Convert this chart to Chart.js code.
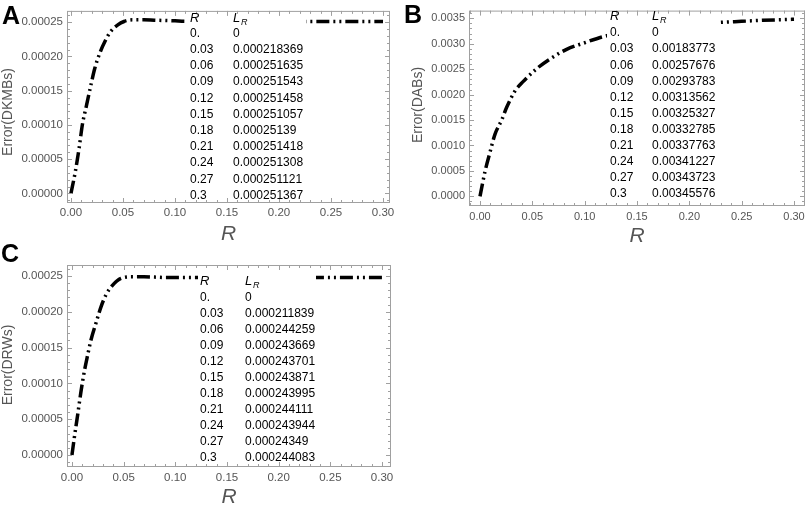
<!DOCTYPE html>
<html>
<head>
<meta charset="utf-8">
<script src="https://cdn.jsdelivr.net/npm/chart.js@4.4.1/dist/chart.umd.min.js"></script>
<style>
  body { margin: 0; background: #fff; width: 809px; height: 506px; overflow: hidden; position: relative; font-family: "Liberation Sans", Arial, sans-serif; }
  .panel { position: absolute; }
  .tag { position: absolute; font-weight: bold; font-size: 25px; line-height: 1; color: #000; }
</style>
</head>
<body>
<div class="panel" style="left:0;top:0"><canvas id="chartA" width="400" height="250"></canvas></div>
<div class="panel" style="left:400px;top:0"><canvas id="chartB" width="409" height="250"></canvas></div>
<div class="panel" style="left:0;top:250px"><canvas id="chartC" width="400" height="260"></canvas></div>
<div class="tag" style="left:2px;top:3px">A</div>
<div class="tag" style="left:404px;top:2px">B</div>
<div class="tag" style="left:1px;top:241px">C</div>

<script>
// tick labels
const xTicks = [0, 0.05, 0.1, 0.15, 0.2, 0.25, 0.3];
const xTickLabels = ['0.00', '0.05', '0.10', '0.15', '0.20', '0.25', '0.30'];
const yTicksSmall = [0, 0.00005, 0.0001, 0.00015, 0.0002, 0.00025];
const yTickLabelsSmall = ['0.00000', '0.00005', '0.00010', '0.00015', '0.00020', '0.00025'];
const yTicksB = [0, 0.0005, 0.001, 0.0015, 0.002, 0.0025, 0.003, 0.0035];
const yTickLabelsB = ['0.0000', '0.0005', '0.0010', '0.0015', '0.0020', '0.0025', '0.0030', '0.0035'];

// curves
const rA = [0, 0.004, 0.008, 0.011, 0.015, 0.019, 0.023, 0.028, 0.033, 0.0385, 0.045, 0.051, 0.059, 0.07, 0.08, 0.09, 0.1, 0.11, 0.12, 0.15, 0.18, 0.21, 0.225, 0.24, 0.26, 0.28, 0.3];
const errA = [0, 0.00003, 0.0000677, 0.0001005, 0.0001287, 0.000157, 0.000183, 0.000206, 0.000223, 0.000237, 0.000246, 0.000251, 0.0002535, 0.0002535, 0.000253, 0.0002525, 0.000252, 0.0002515, 0.0002515, 0.000251, 0.000251, 0.000251, 0.000251, 0.000251, 0.000251, 0.000251, 0.000251];

const rB = [0, 0.0048, 0.0096, 0.0143, 0.0207, 0.0255, 0.0334, 0.0414, 0.0542, 0.0669, 0.0828, 0.0987, 0.1178, 0.15, 0.18, 0.21, 0.23, 0.25, 0.27, 0.3];
const errB = [0, 0.00049, 0.00087, 0.00122, 0.0015, 0.00175, 0.00207, 0.00226, 0.00251, 0.0027, 0.00289, 0.00301, 0.00314, 0.00327, 0.00334, 0.00339, 0.00342, 0.00344, 0.00346, 0.00348];

const rC = [0, 0.0022, 0.0055, 0.0087, 0.0119, 0.0152, 0.0184, 0.0232, 0.0281, 0.0329, 0.0394, 0.0474, 0.0587, 0.0697, 0.08, 0.09, 0.1, 0.11, 0.12, 0.15, 0.18, 0.21, 0.235, 0.25, 0.27, 0.3];
const errC = [0, 0.0000233, 0.0000559, 0.0000884, 0.0001163, 0.0001397, 0.0001606, 0.000184, 0.000207, 0.0002235, 0.0002374, 0.0002468, 0.000249, 0.000249, 0.0002485, 0.000248, 0.000248, 0.000248, 0.000248, 0.000248, 0.000248, 0.000248, 0.000248, 0.000248, 0.000248, 0.000248];

// inset tables
const tableR = ['0.', '0.03', '0.06', '0.09', '0.12', '0.15', '0.18', '0.21', '0.24', '0.27', '0.3'];
const tableLA = ['0', '0.000218369', '0.000251635', '0.000251543', '0.000251458', '0.000251057', '0.00025139', '0.000251418', '0.000251308', '0.000251121', '0.000251367'];
const tableLB = ['0', '0.00183773', '0.00257676', '0.00293783', '0.00313562', '0.00325327', '0.00332785', '0.00337763', '0.00341227', '0.00343723', '0.00345576'];
const tableLC = ['0', '0.000211839', '0.000244259', '0.000243669', '0.000243701', '0.000243871', '0.000243995', '0.000244111', '0.000243944', '0.00024349', '0.000244083'];

const FONT = '"Liberation Sans", Arial, sans-serif';
const GREY = '#555';

// frame with inward ticks, white inset table, rotated y title
const framePlugin = {
    id: 'frame',
    afterDatasetsDraw(chart, args, o) {
        const { ctx, chartArea: a, scales: { x, y } } = chart;
        ctx.save();

        // table background
        ctx.fillStyle = '#fff';
        ctx.fillRect(o.box[0], o.box[1], o.box[2] - o.box[0], o.box[3] - o.box[1]);

        // frame
        ctx.strokeStyle = '#a0a0a0';
        ctx.lineWidth = 1;
        ctx.strokeRect(a.left + 0.5, a.top + 0.5, a.width - 1, a.height - 1);

        const isMajor = (v, step) => Math.abs(v / step - Math.round(v / step)) < 1e-6;
        ctx.beginPath();
        for (let i = Math.ceil(x.min / o.xMinor); i * o.xMinor <= x.max + 1e-12; i++) {
            const v = i * o.xMinor;
            const px = Math.round(x.getPixelForValue(v)) + 0.5;
            const len = isMajor(v, o.xMajor) ? 5 : 3;
            ctx.moveTo(px, a.bottom); ctx.lineTo(px, a.bottom - len);
            ctx.moveTo(px, a.top); ctx.lineTo(px, a.top + len);
        }
        for (let i = Math.ceil(y.min / o.yMinor); i * o.yMinor <= y.max + 1e-12; i++) {
            const v = i * o.yMinor;
            const py = Math.round(y.getPixelForValue(v)) + 0.5;
            const len = isMajor(v, o.yMajor) ? 5 : 3;
            ctx.moveTo(a.left, py); ctx.lineTo(a.left + len, py);
            ctx.moveTo(a.right, py); ctx.lineTo(a.right - len, py);
        }
        ctx.stroke();

        // table
        ctx.fillStyle = '#000';
        ctx.textBaseline = 'middle';
        ctx.textAlign = 'left';
        ctx.font = 'italic 13px ' + FONT;
        ctx.fillText('R', o.colR, o.headY);
        ctx.fillText('L', o.colL, o.headY);
        ctx.font = 'italic 9px ' + FONT;
        ctx.fillText('R', o.colL + 8, o.headY + 4);
        ctx.font = '12px ' + FONT;
        o.rows.forEach((val, i) => {
            const ry = o.rowY + i * o.rowStep;
            ctx.fillText(tableR[i], o.colR, ry);
            ctx.fillText(val, o.colL, ry);
        });

        // y title
        ctx.fillStyle = GREY;
        ctx.font = '14px ' + FONT;
        ctx.textAlign = 'center';
        ctx.translate(o.yTitleX, o.yTitleY);
        ctx.rotate(-Math.PI / 2);
        ctx.fillText(o.yTitle, 0, 0);
        ctx.restore();
    }
};

function makeChart(id, xs, ys, yTicks, yLabels, p) {
    new Chart(document.getElementById(id), {
        type: 'scatter',
        data: {
            datasets: [{
                data: xs.map((v, i) => ({ x: v, y: ys[i] })),
                showLine: true,
                borderColor: '#000',
                borderWidth: 3.5,
                borderDash: [13, 4, 2, 4, 2, 4],
                borderCapStyle: 'butt',
                cubicInterpolationMode: 'monotone',
                pointRadius: 0
            }]
        },
        options: {
            responsive: false,
            animation: false,
            layout: { padding: { top: p.top, right: p.right, left: 0, bottom: 0 } },
            plugins: {
                legend: { display: false },
                tooltip: { enabled: false },
                frame: p.frame
            },
            scales: {
                x: {
                    type: 'linear',
                    min: p.xMin, max: p.xMax,
                    afterBuildTicks: s => { s.ticks = xTicks.map(v => ({ value: v })); },
                    afterFit: s => { s.height = p.xHeight; },
                    grid: { display: false, drawTicks: false },
                    border: { display: false },
                    ticks: {
                        padding: p.xPad,
                        color: GREY,
                        font: { family: FONT, size: p.tickSize },
                        maxRotation: 0,
                        callback: (v, i) => xTickLabels[i]
                    },
                    title: {
                        display: true,
                        text: 'R',
                        color: GREY,
                        font: { family: FONT, size: 21, style: 'italic' },
                        padding: { top: 0, bottom: p.titlePad }
                    }
                },
                y: {
                    type: 'linear',
                    min: p.yMin, max: p.yMax,
                    afterBuildTicks: s => { s.ticks = yTicks.map(v => ({ value: v })); },
                    afterFit: s => { s.width = p.yWidth; },
                    grid: { display: false, drawTicks: false },
                    border: { display: false },
                    ticks: {
                        padding: 4,
                        color: GREY,
                        font: { family: FONT, size: p.tickSize },
                        callback: (v, i) => yLabels[i]
                    }
                }
            }
        },
        plugins: [framePlugin]
    });
}

makeChart('chartA', rA, errA, yTicksSmall, yTickLabelsSmall, {
    top: 4, right: 10, xHeight: 47, yWidth: 67, titlePad: 3, tickSize: 11.5, xPad: 3,
    xMin: -0.0038, xMax: 0.3067, yMin: -0.0000141, yMax: 0.0002665,
    frame: {
        xMinor: 0.01, xMajor: 0.05, yMinor: 0.00001, yMajor: 0.00005,
        box: [185, 8, 306, 200], colR: 190, colL: 233, headY: 18, rowY: 33.5, rowStep: 16.2,
        rows: tableLA, yTitle: 'Error(DKMBs)', yTitleX: 8, yTitleY: 112
    }
});

makeChart('chartB', rB, errB, yTicksB, yTickLabelsB, {
    top: 3, right: 4, xHeight: 44, yWidth: 69, titlePad: 1, tickSize: 11, xPad: 4,
    xMin: -0.0105, xMax: 0.3105, yMin: -0.000189, yMax: 0.003651,
    frame: {
        xMinor: 0.01, xMajor: 0.05, yMinor: 0.0001, yMajor: 0.0005,
        box: [207, 8, 318, 200], colR: 210, colL: 252, headY: 16, rowY: 33, rowStep: 16.1,
        rows: tableLB, yTitle: 'Error(DABs)', yTitleX: 18, yTitleY: 105
    }
});

makeChart('chartC', rC, errC, yTicksSmall, yTickLabelsSmall, {
    top: 15, right: 9, xHeight: 43, yWidth: 67, titlePad: 0, tickSize: 11.5, xPad: 4,
    xMin: -0.0048, xMax: 0.3087, yMin: -0.0000168, yMax: 0.0002654,
    frame: {
        xMinor: 0.01, xMajor: 0.05, yMinor: 0.00001, yMajor: 0.00005,
        box: [198, 20, 316, 212], colR: 200, colL: 245, headY: 31, rowY: 48, rowStep: 16,
        rows: tableLC, yTitle: 'Error(DRWs)', yTitleX: 8, yTitleY: 115
    }
});
</script>
</body>
</html>
